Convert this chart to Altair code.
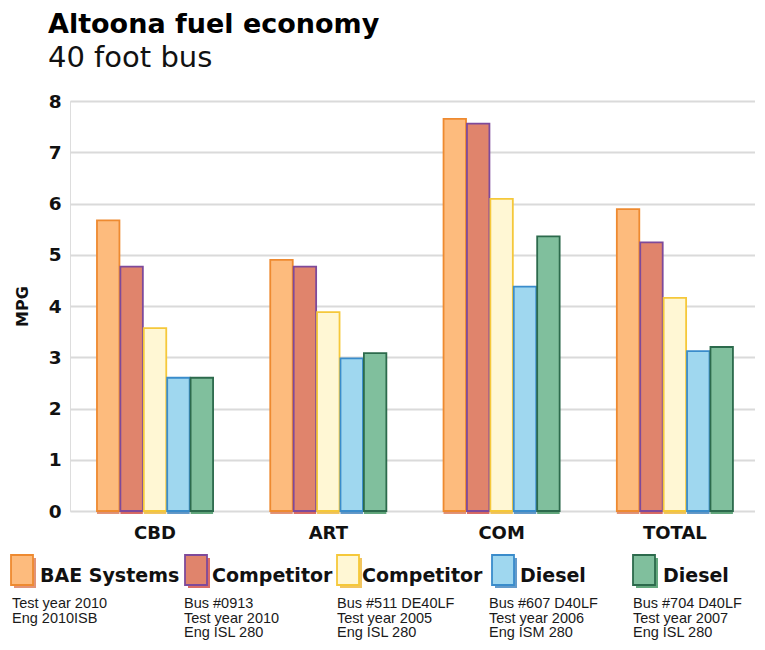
import altair as alt
import pandas as pd

# ---------------- data ----------------
categories = ["CBD", "ART", "COM", "TOTAL"]
series_ids = ["BAE", "C0913", "C511", "D607", "D704"]
bae_systems = [5.67, 4.90, 7.65, 5.89]
competitor_0913 = [4.77, 4.77, 7.56, 5.24]
competitor_511 = [3.57, 3.88, 6.09, 4.16]
diesel_607 = [2.60, 2.98, 4.38, 3.12]
diesel_704 = [2.60, 3.08, 5.36, 3.20]

legend_names = ["BAE Systems", "Competitor", "Competitor", "Diesel", "Diesel"]
legend_notes = [
    ["Test year 2010", "Eng 2010ISB"],
    ["Bus #0913", "Test year 2010", "Eng ISL 280"],
    ["Bus #511 DE40LF", "Test year 2005", "Eng ISL 280"],
    ["Bus #607 D40LF", "Test year 2006", "Eng ISM 280"],
    ["Bus #704 D40LF", "Test year 2007", "Eng ISL 280"],
]
title_text = "Altoona fuel economy"
subtitle_text = "40 foot bus"

# ---------------- styles ----------------
fills = ["#FDBB7D", "#E0846C", "#FFF7D4", "#9FD7EF", "#80BF9D"]
strokes = ["#EE8A30", "#7E4A9A", "#F5C83A", "#3A8CCB", "#2C6A4C"]
shadows = ["#D9704A", "#CC3B34", "#EDB22A", "#2F78B8", "#2F8A52"]

values = [bae_systems, competitor_0913, competitor_511, diesel_607, diesel_704]
rows = []
for sid, vals in zip(series_ids, values):
    for cat, v in zip(categories, vals):
        rows.append({"cat": cat, "series": sid, "mpg": v})
df = pd.DataFrame(rows)

W, H = 685, 410
BOLD = "DejaVu Sans"

x_enc = alt.X("cat:N", sort=categories,
              scale=alt.Scale(paddingInner=0.33, paddingOuter=0.1415, align=0.55),
              axis=alt.Axis(title=None, labelAngle=0, domain=False, ticks=False,
                            labelPadding=13, labelFont=BOLD, labelFontWeight="bold",
                            labelFontSize=18, labelColor="#111", grid=False))
xo_enc = alt.XOffset("series:N", sort=series_ids, scale=alt.Scale(paddingInner=0.04))
y_enc = alt.Y("mpg:Q", scale=alt.Scale(domain=[0, 8], nice=False),
              axis=alt.Axis(title="MPG", values=list(range(0, 9)), format="d",
                            domain=False, ticks=False, labelPadding=9,
                            labelFont=BOLD, labelFontWeight="bold", labelFontSize=18.5,
                            labelColor="#111", titleFont=BOLD, titleFontWeight="bold",
                            titleFontSize=16, titleColor="#111", titlePadding=18,
                            gridColor="#DADADA", gridWidth=2.2))

shadow = alt.Chart(df).mark_bar(xOffset=3, yOffset=3, opacity=0.75).encode(
    x=x_enc, xOffset=xo_enc, y=y_enc,
    color=alt.Color("series:N", sort=series_ids,
                    scale=alt.Scale(domain=series_ids, range=shadows), legend=None),
)
bars = alt.Chart(df).mark_bar(strokeWidth=1.8).encode(
    x=x_enc, xOffset=xo_enc, y=y_enc,
    fill=alt.Fill("series:N", sort=series_ids,
                  scale=alt.Scale(domain=series_ids, range=fills), legend=None),
    stroke=alt.Stroke("series:N", sort=series_ids,
                      scale=alt.Scale(domain=series_ids, range=strokes), legend=None),
)

# ---------------- custom legend ----------------
swatch_x = [-59, 115, 267, 422, 563]
label_x = [-30, 142, 292, 450, 593]
note_x = [-58, 114, 267, 419, 563]
sw_top, sw_bot = 454, 484
label_base = 481
note_base = 507

legend_layers = []
for i in range(5):
    one = pd.DataFrame({"name": [legend_names[i]],
                        "note": ["\n".join(legend_notes[i])]})
    legend_layers.append(alt.Chart(one).mark_rect(color=shadows[i], opacity=0.75).encode(
        x=alt.value(swatch_x[i] + 3), x2=alt.value(swatch_x[i] + 25),
        y=alt.value(sw_top + 3), y2=alt.value(sw_bot + 3)))
    legend_layers.append(alt.Chart(one).mark_rect(
        fill=fills[i], stroke=strokes[i], strokeWidth=1.8).encode(
        x=alt.value(swatch_x[i]), x2=alt.value(swatch_x[i] + 22),
        y=alt.value(sw_top), y2=alt.value(sw_bot)))
    legend_layers.append(alt.Chart(one).mark_text(
        align="left", baseline="alphabetic", font=BOLD, fontWeight="bold",
        fontSize=19, color="#111").encode(
        x=alt.value(label_x[i]), y=alt.value(label_base), text="name:N"))
    legend_layers.append(alt.Chart(one).mark_text(
        align="left", baseline="alphabetic", font="Liberation Sans",
        fontSize=14.5, lineHeight=14.5, lineBreak="\n", color="#1a1a1a").encode(
        x=alt.value(note_x[i]), y=alt.value(note_base), text="note:N"))

# ---------------- title ----------------
tdf = pd.DataFrame({"t": [title_text], "s": [subtitle_text]})
title_layer = alt.Chart(tdf).mark_text(
    align="left", baseline="alphabetic", font=BOLD, fontWeight="bold",
    fontSize=27, color="#000").encode(x=alt.value(-22), y=alt.value(-68), text="t:N")
subtitle_layer = alt.Chart(tdf).mark_text(
    align="left", baseline="alphabetic", font="DejaVu Sans", fontSize=29,
    color="#111").encode(x=alt.value(-22), y=alt.value(-34), text="s:N")

chart = alt.layer(shadow, bars, *legend_layers, title_layer, subtitle_layer).properties(
    width=W, height=H,
    autosize=alt.AutoSizeParams(type="none"),
    padding={"left": 62, "top": 93, "right": 0, "bottom": 131},
).configure_view(strokeWidth=0, strokeOpacity=0).configure(background="white")

chart.save("out.html", embed_options={"renderer": "svg", "actions": False})
